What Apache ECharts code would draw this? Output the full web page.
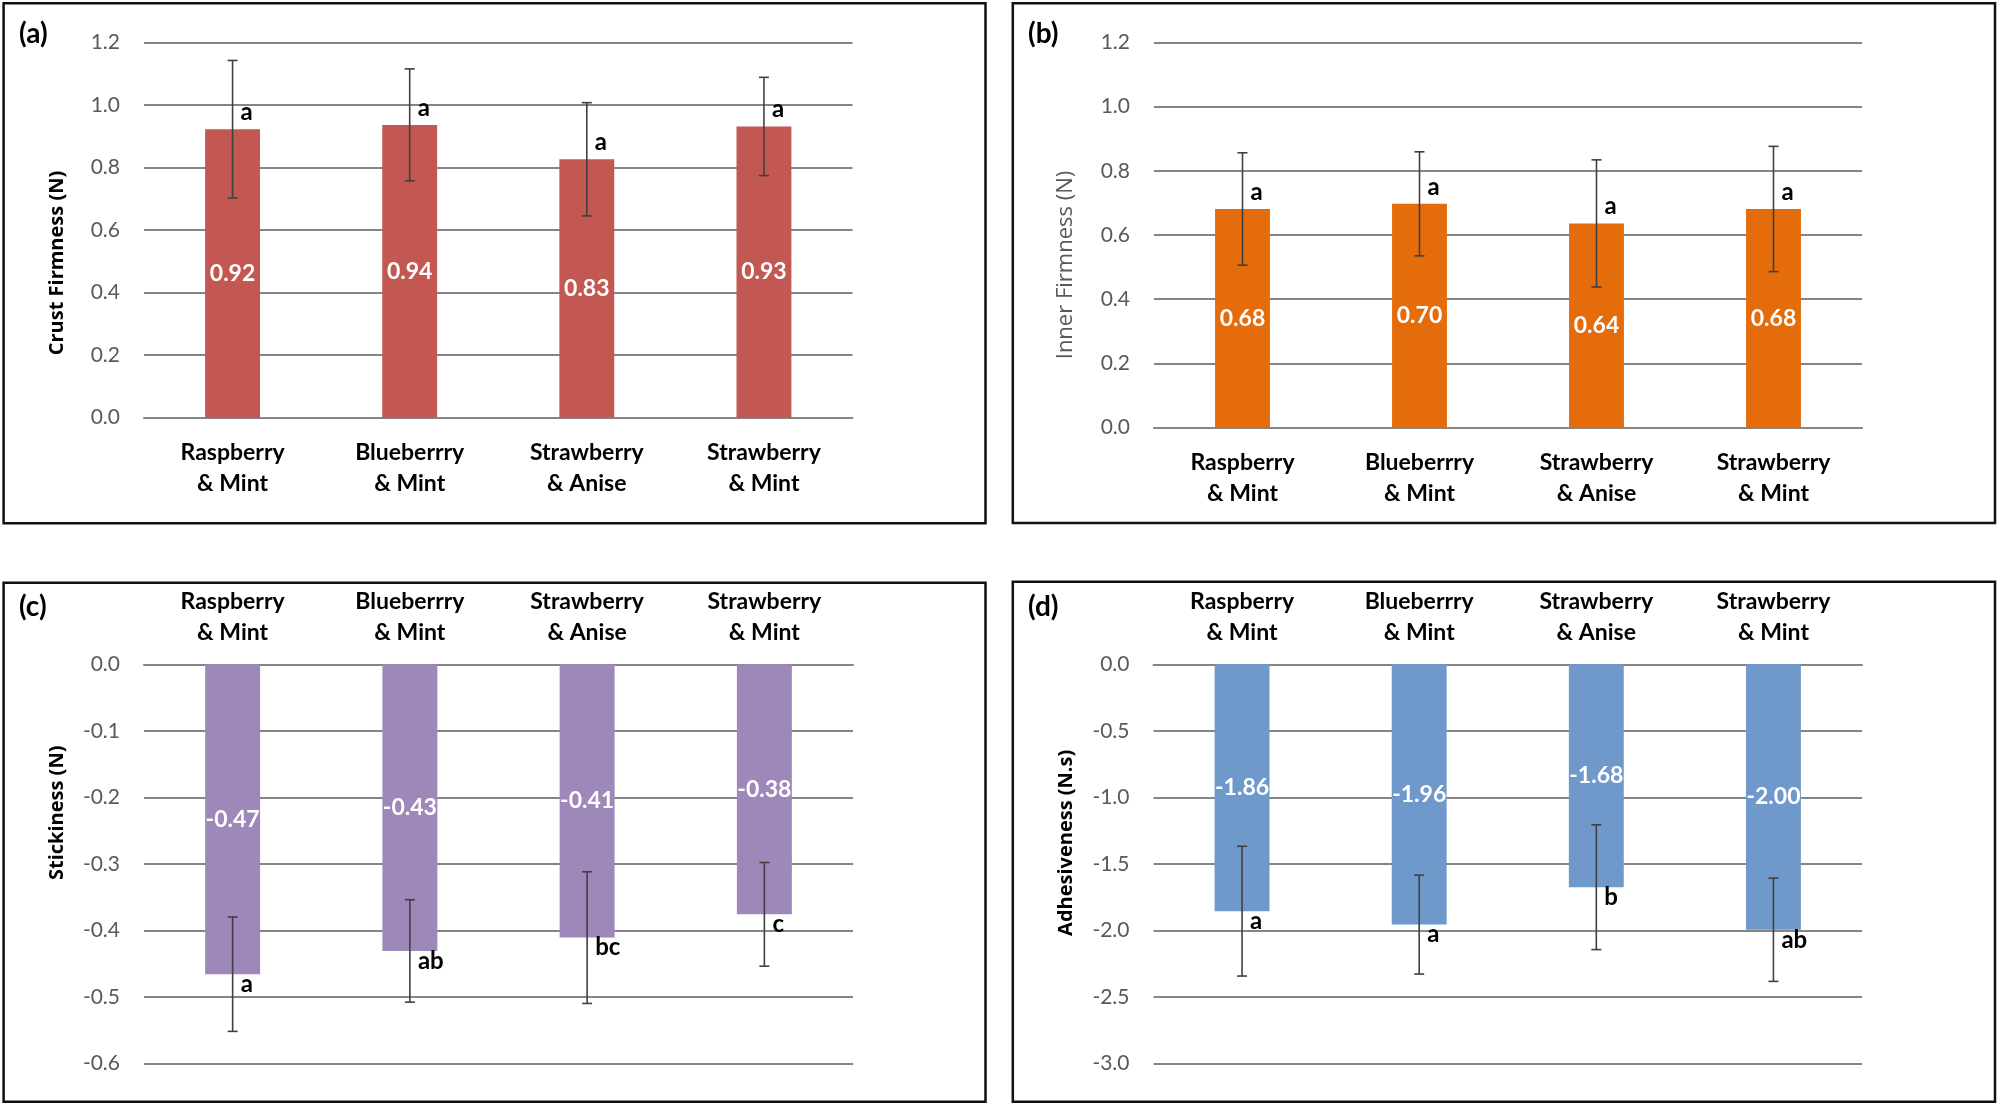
<!DOCTYPE html>
<html><head><meta charset="utf-8">
<script src="https://cdn.jsdelivr.net/npm/echarts@6/dist/echarts.min.js"></script>
<style>html,body{margin:0;padding:0;background:#fff}#c{width:2000px;height:1106px}</style>
</head><body><div id="c"></div>
<script>
// ---- data ----
const categories = ['Raspberry\n& Mint', 'Blueberrry\n& Mint', 'Strawberry\n& Anise', 'Strawberry\n& Mint'];

const crustMean = [0.922, 0.936, 0.826, 0.931];
const crustSD = [0.220, 0.179, 0.181, 0.157];
const crustLetters = ['a', 'a', 'a', 'a'];

const innerMean = [0.681, 0.697, 0.636, 0.681];
const innerSD = [0.175, 0.162, 0.198, 0.195];
const innerLetters = ['a', 'a', 'a', 'a'];

const stickMean = [-0.466, -0.431, -0.411, -0.376];
const stickSD = [0.086, 0.077, 0.099, 0.078];
const stickLetters = ['a', 'ab', 'bc', 'c'];

const adhMean = [-1.856, -1.957, -1.676, -1.996];
const adhSD = [0.488, 0.372, 0.469, 0.388];
const adhLetters = ['a', 'a', 'b', 'ab'];

const firmAxis = [0, 1.2, 0.2];      // min, max, interval
const stickAxis = [-0.6, 0, 0.1];
const adhAxis = [-3, 0, 0.5];

const panelTitles = ['(a)', '(b)', '(c)', '(d)'];
const axisTitles = ['Crust Firmness (N)', 'Inner Firmness (N)', 'Stickiness (N)', 'Adhesiveness (N.s)'];

// ---- styling ----
const LATO = 'Lato';
const GRID_COLOR = '#858585';
const panels = [
  {mean: crustMean, sd: crustSD, letters: crustLetters, axis: firmAxis, color: '#C35752', top: false,
   grid: {left: 144, top: 42.3, width: 708.5, height: 375.4}, titleBold: true, titlePad: [0, 66, 0, 0]},
  {mean: innerMean, sd: innerSD, letters: innerLetters, axis: firmAxis, color: '#E46C0A', top: false,
   grid: {left: 1154, top: 42.3, width: 708, height: 385.4}, titleBold: false, titlePad: [0, 60, 0, 0]},
  {mean: stickMean, sd: stickSD, letters: stickLetters, axis: stickAxis, color: '#9E87B9', top: true,
   grid: {left: 144, top: 664.3, width: 709, height: 399}, titleBold: true, titlePad: [0, 0, 0, 102]},
  {mean: adhMean, sd: adhSD, letters: adhLetters, axis: adhAxis, color: '#7099CB', top: true,
   grid: {left: 1153.5, top: 664.3, width: 708.5, height: 399}, titleBold: true, titlePad: [0, 0, 0, 42]}
];

const grids = [], xAxes = [], yAxes = [], series = [];
panels.forEach((p, k) => {
  grids.push(Object.assign({containLabel: false, outerBoundsMode: 'none'}, p.grid));
  xAxes.push({
    type: 'category', gridIndex: k, data: categories, position: p.top ? 'top' : 'bottom',
    axisTick: {show: false},
    axisLine: {show: true, lineStyle: {color: GRID_COLOR, width: 2}},
    axisLabel: {color: '#000', fontFamily: LATO, fontWeight: 'bold', fontSize: 23, lineHeight: 31,
      margin: p.top ? 16 : 19, interval: 0}
  });
  yAxes.push({
    type: 'value', gridIndex: k, min: p.axis[0], max: p.axis[1], interval: p.axis[2],
    axisLine: {show: false}, axisTick: {show: false},
    splitLine: {show: true, lineStyle: {color: GRID_COLOR, width: 2}},
    axisLabel: {color: '#595959', fontFamily: LATO, fontSize: 21, margin: 24,
      formatter: v => v.toFixed(1)},
    name: axisTitles[k], nameLocation: 'middle', nameGap: 77, nameRotate: 90,
    nameTextStyle: {fontFamily: 'Open Sans', fontSize: p.titleBold ? 20 : 22,
      fontWeight: p.titleBold ? 'bold' : 'normal', color: p.titleBold ? '#000' : '#595959',
      padding: p.titlePad}
  });
  series.push({
    type: 'bar', xAxisIndex: k, yAxisIndex: k, data: p.mean, barWidth: '31%',
    itemStyle: {color: p.color},
    label: {show: true, position: 'inside', color: '#fff', fontFamily: LATO, fontWeight: 'bold',
      fontSize: 23, formatter: d => d.value.toFixed(2)},
    z: 2
  });
  series.push({
    type: 'custom', xAxisIndex: k, yAxisIndex: k, z: 5,
    data: p.mean.map((m, i) => [i, m - p.sd[i], m + p.sd[i]]),
    encode: {x: 0, y: [1, 2]},
    renderItem: (params, api) => {
      const i = api.value(0);
      const a = api.coord([i, api.value(1)]);
      const b = api.coord([i, api.value(2)]);
      const st = {stroke: '#404040', lineWidth: 1.6};
      const h = 5;
      return {type: 'group', children: [
        {type: 'line', shape: {x1: a[0], y1: a[1], x2: b[0], y2: b[1]}, style: st},
        {type: 'line', shape: {x1: a[0] - h, y1: a[1], x2: a[0] + h, y2: a[1]}, style: st},
        {type: 'line', shape: {x1: b[0] - h, y1: b[1], x2: b[0] + h, y2: b[1]}, style: st}
      ]};
    }
  });
  series.push({
    type: 'custom', xAxisIndex: k, yAxisIndex: k, z: 6,
    data: p.mean.map((m, i) => [i, m]),
    encode: {x: 0, y: 1},
    renderItem: (params, api) => {
      const i = api.value(0);
      const c = api.coord([i, api.value(1)]);
      const neg = api.value(1) < 0;
      return {type: 'text', x: c[0] + 8, y: neg ? c[1] - 2 : c[1] - 5,
        style: {text: p.letters[params.dataIndex], fill: '#000', font: 'bold 24px Lato',
          textAlign: 'left', textVerticalAlign: neg ? 'top' : 'bottom'}};
    }
  });
});

const boxes = [
  {x: 3.6, y: 3.3, w: 981.9, h: 520},
  {x: 1012.8, y: 3.3, w: 982.2, h: 519.7},
  {x: 3.6, y: 582.7, w: 981.9, h: 519},
  {x: 1012.8, y: 581.7, w: 982.2, h: 520}
];
const labelPos = [[19, 20], [1028, 20], [19, 593], [1028, 593]];
const graphic = [];
boxes.forEach(b => graphic.push({type: 'rect', shape: {x: b.x, y: b.y, width: b.w, height: b.h},
  style: {fill: 'none', stroke: '#111', lineWidth: 2.5}, z: 0, silent: true}));
panelTitles.forEach((t, k) => graphic.push({type: 'text', x: labelPos[k][0], y: labelPos[k][1],
  style: {text: t, font: 'bold 28px Lato', fill: '#000', textVerticalAlign: 'top'}}));

const chart = echarts.init(document.getElementById('c'), null, {renderer: 'canvas'});
chart.setOption({
  animation: false, backgroundColor: '#fff',
  grid: grids, xAxis: xAxes, yAxis: yAxes, series: series, graphic: graphic
});
</script></body></html>
